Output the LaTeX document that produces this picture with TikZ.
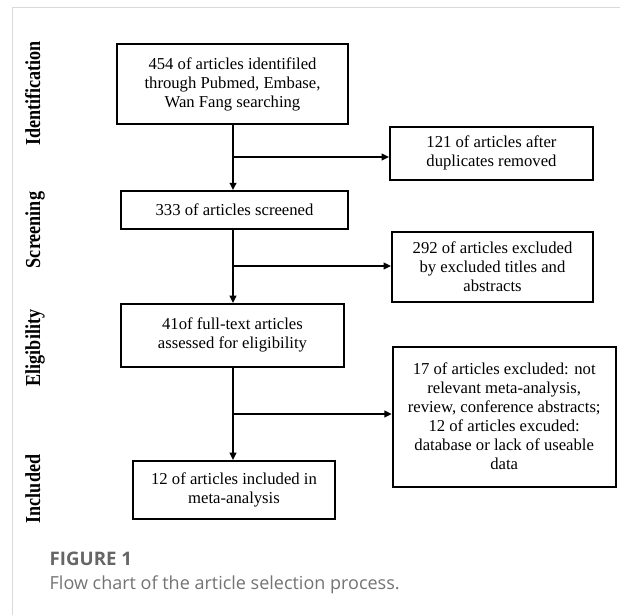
\documentclass[tikz,border=0pt]{standalone}
\usepackage{fontspec}
\setmainfont{Liberation Serif}
\newfontfamily\stagefont{Liberation Serif}[FakeStretch=0.85]
\newfontfamily\capfont{Open Sans}
\usepackage{tikz}
\usetikzlibrary{arrows.meta}
\usetikzlibrary{calc}

\begin{document}
\begin{tikzpicture}[x = 0.75pt, y = -0.75pt,
box/.style = {draw, line width=1.5pt, align=center, inner sep=0pt, font=\fontsize{12.5}{14.25}\selectfont},
stage/.style = {rotate=90, anchor=base, font=\stagefont\bfseries\fontsize{16}{16}\selectfont},
flow/.style = {line width=1.5pt, -{Triangle[length=5.5pt, width=5pt]}},
frameLine/.style = {line width=1pt, draw=black!15},
capHead/.style = {anchor=base west, text=black!60, font=\capfont\bfseries\fontsize{14}{14}\selectfont},
capText/.style = {anchor=base west, text=black!55, font=\capfont\fontsize{13.5}{13.5}\selectfont}]
\def\px{0.75pt};
\useasboundingbox (0,0) rectangle (620,615);
\draw[frameLine] (12.5,615) -- (12.5,7.5) -- (620,7.5);

\node[stage] (sIdent) at (40,93.5) {Identification};
\node[stage] (sScr) at (40,230) {Screening};
\node[stage] (sElig) at (40,348) {Eligibility};
\node[stage] (sIncl) at (40,489) {Included};

\node[box, minimum width=231*\px, minimum height=80*\px] (ident) at (232.5,84.2) {454 of articles identifiled\\through Pubmed, Embase,\\Wan Fang searching};
\node[box, minimum width=203*\px, minimum height=53*\px] (dup) at (491.5,153.3) {121 of articles after\\duplicates removed};
\node[box, minimum width=227*\px, minimum height=38*\px] (scr) at (234.5,210.1) {333 of articles screened};
\node[box, minimum width=201*\px, minimum height=70.5*\px] (exA) at (492.5,267) {292 of articles excluded\\by excluded titles and\\abstracts};
\node[box, minimum width=223*\px, minimum height=62.5*\px] (elig) at (232.5,335.3) {41of full-text articles\\assessed for eligibility};
\node[box, minimum width=223*\px, minimum height=140*\px] (exB) at (504.2,416.6) {17 of articles excluded: not\\relevant meta-analysis,\\review, conference abstracts;\\12 of articles excuded:\\database or lack of useable\\data};
\node[box, minimum width=202*\px, minimum height=58*\px] (incl) at (234,490) {12 of articles included in\\meta-analysis};

\coordinate (b1) at (233,157);
\coordinate (b2) at (233,266);
\coordinate (b3) at (233,414);

\draw[flow] (b1 |- ident.south) -- (b1 |- scr.north);
\draw[flow] (b1) -- (b1 -| dup.west);
\draw[flow] (b2 |- scr.south) -- (b2 |- elig.north);
\draw[flow] (b2) -- (b2 -| exA.west);
\draw[flow] (b3 |- elig.south) -- (b3 |- incl.north);
\draw[flow] (b3) -- (b3 -| exB.west);

\node[capHead] (fig) at (45,565) {FIGURE 1};
\node[capText] (cap) at (45,589) {Flow chart of the article selection process.};
\end{tikzpicture}
\end{document}
